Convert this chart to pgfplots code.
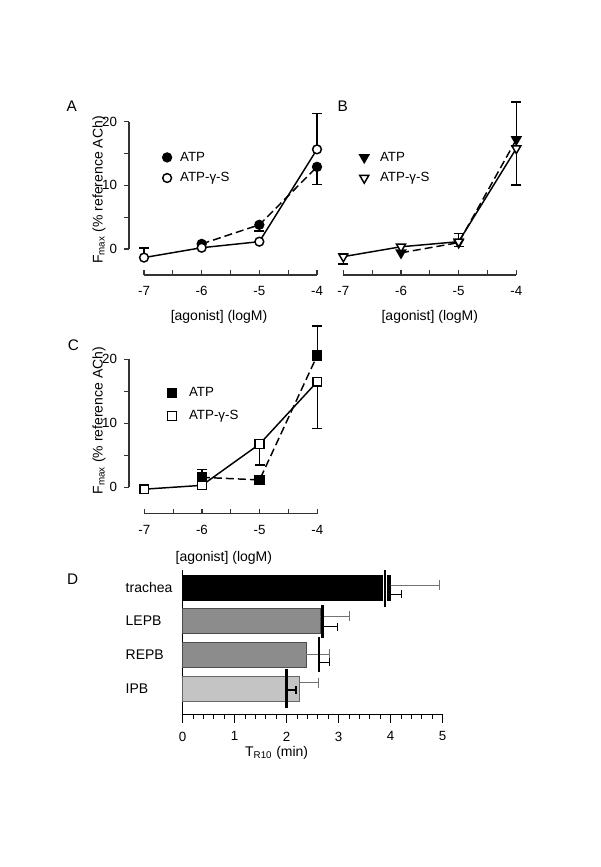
\documentclass[border=0pt]{standalone}
\usepackage{fontspec}
\setmainfont{Liberation Sans}
\usepackage{pgfplots}
\pgfplotsset{compat=1.18}
\newcommand{\fs}{\fontsize{10.5}{12.6}\selectfont}
\newcommand{\ft}{\fontsize{10}{12}\selectfont}
\begin{document}
\begin{tikzpicture}[font=\fs]
\path (0,0) rectangle (450pt,650.25pt);
\pgfplotsset{
  common/.style={
    scale only axis, anchor=south west, clip=false,
    ymin=0, ymax=20,
    major tick length=3.5pt, minor tick length=3.5pt,
    tick style={black!80, line width=0.85pt},
    ticklabel style={font=\ft},
  },
  yonly/.style={common,
    width=141pt, height=95.5pt, xmin=-7.26, xmax=-4,
    axis x line=none, axis y line=left,
    axis line style={-, black!80, line width=0.85pt},
    y axis line style={-},
    ytick={0,10,20}, yticklabels={0,10,20}, minor ytick={5,15},
    ytick align=outside,
    yticklabel style={xshift=-2pt},
  },
  dose/.style={common,
    width=129.75pt, height=95.5pt, xmin=-7, xmax=-4,
    axis x line=bottom, axis y line=none,
    axis line style={-, black!80, line width=0.85pt},
    x axis line style={-},
    axis x line shift=19.5pt,
    xtick={-7,-6,-5,-4}, xticklabels={-7,-6,-5,-4},
    minor xtick={-6.5,-5.5,-4.5},
    xtick align=inside,
    xticklabel style={yshift=-5pt},
    legend style={draw=none, fill=none, inner sep=0pt, row sep=2pt, font=\ft,
      nodes={inner sep=2.5pt},
      /tikz/every odd column/.append style={column sep=4pt}},
    legend cell align=left,
    legend image code/.code={\draw[##1] plot coordinates {(0pt,0pt)};},
  },
  sol/.style={black, line width=1.1pt, mark=none, solid, forget plot},
  das/.style={black, line width=1.1pt, mark=none, dash pattern=on 6pt off 3pt, forget plot},
  ebar/.style={only marks, mark=none, mark size=0.01pt, forget plot, black,
    error bars/y explicit,
    error bars/error bar style={black, line width=1.1pt, solid},
    error bars/error mark options={rotate=90, black, mark size=3.75pt, line width=1.1pt, solid}},
  fc/.style={only marks, black, mark=*, mark size=3.3pt, mark options={solid, line width=1.1pt, fill=black}},
  oc/.style={only marks, black, mark=*, mark size=3.3pt, mark options={solid, line width=1.1pt, fill=white}},
  fs/.style={only marks, black, mark=square*, mark size=3.3pt, mark options={solid, line width=1.1pt, fill=black}},
  os/.style={only marks, black, mark=square*, mark size=3.3pt, mark options={solid, line width=1.1pt, fill=white}},
  ft/.style={only marks, black, mark=triangle*, mark size=3.9pt, mark options={solid, line width=1.1pt, fill=black, rotate=180}},
  ot/.style={only marks, black, mark=triangle*, mark size=3.9pt, mark options={solid, line width=1.1pt, fill=white, rotate=180}},
}
% ---------------- Panel A ----------------
\begin{axis}[yonly, at={(96.75pt,463.5pt)},
  ylabel={F\textsubscript{max} (\% reference ACh)},
  ylabel style={at={(rel axis cs:-0.16,0.4635)}, anchor=center}]
\end{axis}
\begin{axis}[dose, at={(108pt,463.5pt)},
  xlabel={{}[agonist] (logM)},
  xlabel style={at={(rel axis cs:0.4335,-0.532)}, anchor=center},
  legend style={at={(axis cs:-6.68,12.76)}, anchor=west}]
\addlegendimage{fc}
\addlegendentry{ATP}
\addlegendimage{oc}
\addlegendentry{ATP-γ-S}
\addplot[das] coordinates {(-6,0.8) (-5,3.8) (-4,12.9)};
\addplot[sol] coordinates {(-7,-1.35) (-6,0.2) (-5,1.15) (-4,15.65)};
\addplot[ebar, error bars/y dir=plus] coordinates {(-7,-1.35) +- (0,1.5) (-4,15.65) +- (0,5.65)};
\addplot[ebar, error bars/y dir=minus] coordinates {(-5,3.8) +- (0,1.0) (-4,12.9) +- (0,2.8)};
\addplot[fc, forget plot] coordinates {(-6,0.8) (-5,3.8) (-4,12.9)};
\addplot[oc, forget plot] coordinates {(-7,-1.35) (-6,0.2) (-5,1.15) (-4,15.65)};
\end{axis}
% ---------------- Panel B ----------------
\begin{axis}[dose, at={(257.5pt,463.5pt)},
  xlabel={{}[agonist] (logM)},
  xlabel style={at={(rel axis cs:0.5,-0.532)}, anchor=center},
  legend style={at={(axis cs:-6.72,12.76)}, anchor=west,
    /tikz/every odd column/.append style={column sep=6pt}}]
\addlegendimage{ft}
\addlegendentry{ATP}
\addlegendimage{ot}
\addlegendentry{ATP-γ-S}
\addplot[das] coordinates {(-6,-0.6) (-5,1.0) (-4,17.2)};
\addplot[sol] coordinates {(-7,-1.2) (-6,0.35) (-5,1.15) (-4,15.8)};
\addplot[ebar, error bars/y dir=plus] coordinates {(-7,-1.2) +- (0,0.5) (-5,1.15) +- (0,1.3) (-4,17.2) +- (0,5.9)};
\addplot[ebar, error bars/y dir=minus] coordinates {(-7,-1.2) +- (0,1.15) (-5,1.15) +- (0,0.8) (-4,15.8) +- (0,5.75)};
\addplot[ft, forget plot] coordinates {(-6,-0.6) (-5,1.0) (-4,17.2)};
\addplot[ot, forget plot] coordinates {(-7,-1.2) (-6,0.35) (-5,1.15) (-4,15.8)};
\end{axis}
% ---------------- Panel C ----------------
\begin{axis}[yonly, at={(96.75pt,284.8pt)}, height=96pt,
  ylabel={F\textsubscript{max} (\% reference ACh)},
  ylabel style={at={(rel axis cs:-0.16,0.52)}, anchor=center}]
\end{axis}
\begin{axis}[dose, at={(108.2pt,284.8pt)}, height=96pt,
  axis x line shift=20pt,
  xlabel={{}[agonist] (logM)},
  xlabel style={at={(rel axis cs:0.46,-0.552)}, anchor=center},
  legend style={at={(axis cs:-6.6,12.94)}, anchor=west, row sep=4pt,
    /tikz/every odd column/.append style={column sep=7pt}}]
\addlegendimage{fs}
\addlegendentry{ATP}
\addlegendimage{os}
\addlegendentry{ATP-γ-S}
\addplot[das] coordinates {(-6,1.55) (-5,1.15) (-4,20.6)};
\addplot[sol] coordinates {(-7,-0.3) (-6,0.3) (-5,6.75) (-4,16.5)};
\addplot[ebar, error bars/y dir=plus] coordinates {(-6,1.55) +- (0,1.25) (-4,20.6) +- (0,4.6)};
\addplot[ebar, error bars/y dir=minus] coordinates {(-5,6.75) +- (0,3.25) (-4,16.5) +- (0,7.3)};
\addplot[fs, forget plot] coordinates {(-6,1.55) (-5,1.15) (-4,20.6)};
\addplot[os, forget plot] coordinates {(-7,-0.3) (-6,0.3) (-5,6.75) (-4,16.5)};
\end{axis}
% ---------------- Panel D ----------------
\begin{axis}[at={(137pt,114.5pt)}, anchor=south west, scale only axis,
  width=195pt, height=108.2pt,
  xmin=0, xmax=5, ymin=-0.774, ymax=3.52, clip=false,
  axis x line=bottom, axis y line=left,
  axis line style={-, black, line width=0.85pt},
  xtick={0,1,2,3,4,5}, xticklabels={0,1,2,3,4,5}, minor x tick num=4,
  xtick align=outside,
  major tick length=6.5pt, minor tick length=3.5pt,
  x tick style={black, line width=0.85pt},
  ytick={0,1,2,3}, yticklabels={IPB,REPB,LEPB,trachea},
  y tick style={draw=none},
  xticklabel style={font=\ft, yshift=-3pt},
  yticklabel style={font=\fs, anchor=west, xshift=-43pt},
  xlabel={T\textsubscript{R10} (min)},
  xlabel style={at={(rel axis cs:0.3615,-0.268)}, anchor=center}]
\addplot[xbar, bar width=18.75pt, bar shift=0pt, fill=black, draw=black] coordinates {(4.0,3)};
\addplot[xbar, bar width=18.75pt, bar shift=0pt, fill=black!45, draw=black!70] coordinates {(2.65,2) (2.38,1)};
\addplot[xbar, bar width=18.75pt, bar shift=0pt, fill=black!23, draw=black!60] coordinates {(2.24,0)};
\addplot[only marks, mark=none, mark size=0.01pt, black!55, error bars/x dir=plus, error bars/x explicit,
  error bars/error bar style={black!55, line width=0.6pt},
  error bars/error mark options={rotate=90, black!55, mark size=3.75pt, line width=0.6pt}]
  coordinates {(4.0,3.07) +- (0.94,0) (2.65,2.14) +- (0.56,0) (2.38,1.02) +- (0.45,0) (2.24,0.17) +- (0.37,0)};
\addplot[only marks, mark=none, mark size=0.01pt, black, error bars/x dir=plus, error bars/x explicit,
  error bars/error bar style={black, line width=0.9pt},
  error bars/error mark options={rotate=90, black, mark size=3pt, line width=0.9pt}]
  coordinates {(3.89,2.8) +- (0.32,0) (2.69,1.84) +- (0.28,0) (2.62,0.77) +- (0.20,0) (2.0,-0.05) +- (0.18,0)};
\addplot[white, line width=3.6pt, mark=none] coordinates {(3.89,2.46) (3.89,3.52)};
\addplot[black, line width=2pt, mark=none] coordinates {(3.89,2.43) (3.89,3.52)};
\addplot[black, line width=2pt, mark=none] coordinates {(2.69,1.49) (2.69,2.49)};
\addplot[black, line width=2pt, mark=none] coordinates {(2.62,0.49) (2.62,1.52)};
\addplot[black, line width=2pt, mark=none] coordinates {(2.0,-0.58) (2.0,0.57)};
\end{axis}
\node[font=\fontsize{11.5}{13}\selectfont] at (53.8pt,570.2pt) {A};
\node[font=\fontsize{11.5}{13}\selectfont] at (257.0pt,570.2pt) {B};
\node[font=\fontsize{11.5}{13}\selectfont] at (55.0pt,391.5pt) {C};
\node[font=\fontsize{11.5}{13}\selectfont] at (54.5pt,216pt) {D};
\end{tikzpicture}
\end{document}
